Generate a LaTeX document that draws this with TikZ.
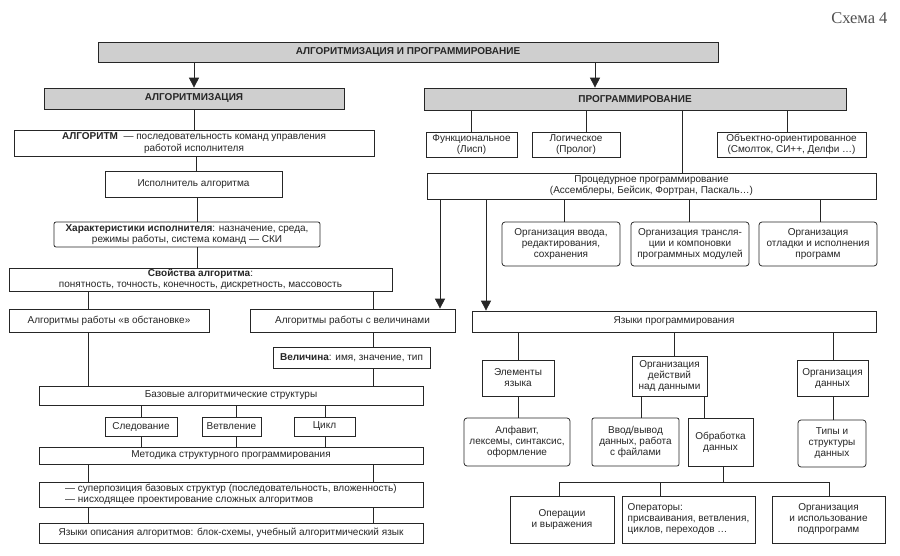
\documentclass[tikz,border=0pt]{standalone}
\usepackage{fontspec}
\setmainfont{Liberation Sans}
\newfontfamily\schemafont{Liberation Serif}
\usetikzlibrary{arrows.meta}
\definecolor{ink}{HTML}{262626}
\definecolor{hdr}{HTML}{CFCFCF}
\definecolor{capt}{HTML}{505050}
\begin{document}
\begin{tikzpicture}[x=1pt,y=-1pt,
  box/.style={draw=ink, line width=0.75pt, text=ink, inner sep=1pt, align=center, font=\fontsize{10}{11}\selectfont},
  hdrbox/.style={box, fill=hdr, font=\fontsize{10}{11}\selectfont\bfseries},
  rbox/.style={box, rounded corners=3pt},
  link/.style={draw=ink, line width=0.85pt},
  arrow/.style={link, -{Triangle[width=10pt,length=10pt]}}
]
\useasboundingbox (0,0) rectangle (900,555);
\fill[white] (0,0) rectangle (900,555);

\node[text=capt, font=\schemafont\fontsize{16.5}{18}\selectfont, anchor=east] (schema) at (891,18) {Схема 4};

% headers
\node[hdrbox, minimum width=620pt, minimum height=20pt] (top) at (408,52) {АЛГОРИТМИЗАЦИЯ И ПРОГРАММИРОВАНИЕ};
\node[hdrbox, minimum width=300pt, minimum height=21pt] (alg) at (194,98.5) {АЛГОРИТМИЗАЦИЯ};
\node[hdrbox, minimum width=422pt, minimum height=22pt] (prog) at (635,99) {ПРОГРАММИРОВАНИЕ};

% left column
\node[box, minimum width=360pt, minimum height=26pt, font=\fontsize{10}{12}\selectfont] (algdef) at (194,143) {\textbf{АЛГОРИТМ} \ — последовательность команд управления\\работой исполнителя};
\node[box, minimum width=177pt, minimum height=26pt] (exec) at (193.5,184) {Исполнитель алгоритма};
\node[rbox, rounded corners=2pt, minimum width=266pt, minimum height=25pt] (char) at (187,234.5) {\textbf{Характеристики исполнителя}: назначение, среда,\\режимы работы, система команд — СКИ};
\node[box, minimum width=383pt, minimum height=23pt] (prop) at (200.5,279.5) {\textbf{Свойства алгоритма}:\\понятность, точность, конечность, дискретность, массовость};
\node[box, minimum width=200pt, minimum height=23pt] (env) at (109,320.5) {Алгоритмы работы «в обстановке»};
\node[box, minimum width=205pt, minimum height=23pt] (val) at (352.5,320.5) {Алгоритмы работы с величинами};
\node[box, minimum width=157pt, minimum height=21pt] (qty) at (351.5,357.5) {\textbf{Величина}: имя, значение, тип};
\node[box, minimum width=384pt, minimum height=19pt] (base) at (231,395.5) {Базовые алгоритмические структуры};
\node[box, minimum width=72pt, minimum height=19pt] (seq) at (141,426.5) {Следование};
\node[box, minimum width=59pt, minimum height=19pt] (branch) at (231.5,426.5) {Ветвление};
\node[box, minimum width=61pt, minimum height=19pt] (loop) at (324.5,426.5) {Цикл};
\node[box, minimum width=384pt, minimum height=17pt] (method) at (231,455.5) {Методика структурного программирования};
\node[box, minimum width=384pt, minimum height=25pt, align=left] (super) at (231,494.5) {— суперпозиция базовых структур (последовательность, вложенность)\\— нисходящее проектирование сложных алгоритмов};
\node[box, minimum width=384pt, minimum height=20pt] (desc) at (231,533) {Языки описания алгоритмов: блок-схемы, учебный алгоритмический язык};

% right column
\node[box, minimum width=91pt, minimum height=25pt] (func) at (471.5,144.5) {Функциональное\\(Лисп)};
\node[box, minimum width=88pt, minimum height=25pt] (logic) at (576,144.5) {Логическое\\(Пролог)};
\node[box, minimum width=149pt, minimum height=25pt] (oop) at (791.5,144.5) {Объектно-ориентированное\\(Смолток, СИ++, Делфи …)};
\node[box, minimum width=449pt, minimum height=26pt] (proc) at (651.5,186) {Процедурное программирование\\(Ассемблеры, Бейсик, Фортран, Паскаль…)};
\node[rbox, minimum width=118pt, minimum height=44pt] (input) at (561,244) {Организация ввода,\\редактирования,\\сохранения};
\node[rbox, minimum width=118pt, minimum height=44pt] (trans) at (690,244) {Организация трансля-\\ции и компоновки\\программных модулей};
\node[rbox, minimum width=118pt, minimum height=44pt] (debug) at (818,244) {Организация\\отладки и исполнения\\программ};
\node[box, minimum width=404pt, minimum height=21pt] (langs) at (674,321.5) {Языки программирования};
\node[box, minimum width=72pt, minimum height=36pt] (elem) at (518,378) {Элементы\\языка};
\node[box, minimum width=75pt, minimum height=40pt] (acts) at (669.5,376) {Организация\\действий\\над данными};
\node[box, minimum width=71pt, minimum height=36pt] (dorg) at (832.5,378) {Организация\\данных};
\node[rbox, minimum width=106pt, minimum height=48pt] (alpha) at (517,442) {Алфавит,\\лексемы, синтаксис,\\оформление};
\node[rbox, rounded corners=2pt, minimum width=87pt, minimum height=48pt] (io) at (635.5,442) {Ввод/вывод\\данных, работа\\с файлами};
\node[box, minimum width=65pt, minimum height=48pt] (work) at (720.5,442) {Обработка\\данных};
\node[rbox, minimum width=68pt, minimum height=47pt] (types) at (832,443.5) {Типы и\\структуры\\данных};
\node[box, minimum width=104pt, minimum height=47pt] (ops) at (562,519.5) {Операции\\и выражения};
\node[box, minimum width=133pt, minimum height=47pt, align=left] (stmts) at (688.5,519.5) {Операторы:\\присваивания, ветвления,\\циклов, переходов …};
\node[box, minimum width=113pt, minimum height=47pt] (subs) at (828.5,519.5) {Организация\\и использование\\подпрограмм};

% x positions of connectors
\coordinate (xA) at (194,0);
\coordinate (xB) at (196,0);
\coordinate (xC) at (197,0);
\coordinate (xL) at (88,0);
\coordinate (xR) at (373,0);
\coordinate (xS) at (141,0);
\coordinate (xV) at (236,0);
\coordinate (xZ) at (325,0);
\coordinate (xTopR) at (595,0);
\coordinate (xF) at (471,0);
\coordinate (xG) at (586,0);
\coordinate (xP) at (682,0);
\coordinate (xO) at (787,0);
\coordinate (xI) at (564,0);
\coordinate (xT) at (689,0);
\coordinate (xD) at (820,0);
\coordinate (xArr1) at (440,0);
\coordinate (xArr2) at (486,0);
\coordinate (xE) at (518,0);
\coordinate (xAc) at (674,0);
\coordinate (xDo) at (833,0);
\coordinate (xIo) at (641,0);
\coordinate (xWk) at (704,0);
\coordinate (tj) at (723,482);
\coordinate (b1) at (559,482);
\coordinate (b2) at (660,482);
\coordinate (b3) at (829,482);

% arrows from top
\draw[arrow] (top.south -| xA) -- (alg.north -| xA);
\draw[arrow] (top.south -| xTopR) -- (prog.north -| xTopR);

% left links
\draw[link] (alg.south -| xA) -- (algdef.north -| xA);
\draw[link] (algdef.south -| xB) -- (exec.north -| xB);
\draw[link] (exec.south -| xC) -- (char.north -| xC);
\draw[link] (char.south -| xC) -- (prop.north -| xC);
\draw[link] (prop.south -| xL) -- (env.north -| xL);
\draw[link] (prop.south -| xR) -- (val.north -| xR);
\draw[link] (val.south -| xR) -- (qty.north -| xR);
\draw[link] (env.south -| xL) -- (base.north -| xL);
\draw[link] (qty.south -| xR) -- (base.north -| xR);
\draw[link] (base.south -| xS) -- (seq.north -| xS);
\draw[link] (base.south -| xV) -- (branch.north -| xV);
\draw[link] (base.south -| xZ) -- (loop.north -| xZ);
\draw[link] (seq.south -| xS) -- (method.north -| xS);
\draw[link] (branch.south -| xV) -- (method.north -| xV);
\draw[link] (loop.south -| xZ) -- (method.north -| xZ);
\draw[link] (method.south -| xL) -- (super.north -| xL);
\draw[link] (method.south -| xR) -- (super.north -| xR);
\draw[link] (super.south -| xL) -- (desc.north -| xL);
\draw[link] (super.south -| xR) -- (desc.north -| xR);

% right links
\draw[link] (prog.south -| xF) -- (func.north -| xF);
\draw[link] (prog.south -| xG) -- (logic.north -| xG);
\draw[link] (prog.south -| xO) -- (oop.north -| xO);
\draw[link] (prog.south -| xP) -- (proc.north -| xP);
\draw[link] (proc.south -| xI) -- (input.north -| xI);
\draw[link] (proc.south -| xT) -- (trans.north -| xT);
\draw[link] (proc.south -| xD) -- (debug.north -| xD);
\draw[arrow] (proc.south -| xArr1) -- (val.north -| xArr1);
\draw[arrow] (proc.south -| xArr2) -- (langs.north -| xArr2);
\draw[link] (langs.south -| xE) -- (elem.north -| xE);
\draw[link] (langs.south -| xAc) -- (acts.north -| xAc);
\draw[link] (langs.south -| xDo) -- (dorg.north -| xDo);
\draw[link] (elem.south -| xE) -- (alpha.north -| xE);
\draw[link] (acts.south -| xIo) -- (io.north -| xIo);
\draw[link] (acts.south -| xWk) -- (work.north -| xWk);
\draw[link] (dorg.south -| xDo) -- (types.north -| xDo);
\draw[link] (work.south -| tj) -- (tj);
\draw[link] (b1) -- (b3);
\draw[link] (b1) -- (ops.north -| b1);
\draw[link] (b2) -- (stmts.north -| b2);
\draw[link] (b3) -- (subs.north -| b3);
\end{tikzpicture}
\end{document}
